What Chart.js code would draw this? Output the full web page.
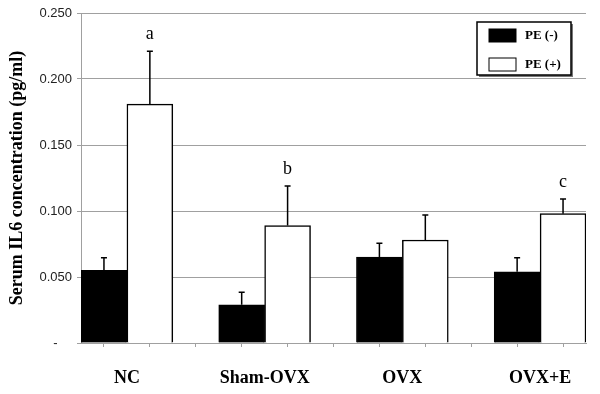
<!DOCTYPE html>
<html>
<head>
<meta charset="utf-8">
<script src="https://cdn.jsdelivr.net/npm/chart.js@4"></script>
<style>
  html, body { margin: 0; padding: 0; background: #fff; }
  #wrap { width: 600px; height: 394px; }
</style>
</head>
<body>
<div id="wrap"><canvas id="c" width="600" height="394"></canvas></div>
<script>
// ---- data ----
const categories = ['NC', 'Sham-OVX', 'OVX', 'OVX+E'];
const seriesNames = ['PE (-)', 'PE (+)'];
const peMinus = [0.055, 0.029, 0.065, 0.054];
const pePlus = [0.181, 0.089, 0.078, 0.098];
const peMinusErr = [0.0095, 0.0095, 0.0105, 0.0105];
const pePlusErr = [0.040, 0.030, 0.019, 0.011];
const pePlusLetters = ['a', 'b', '', 'c'];
const yTickLabels = ['-', '0.050', '0.100', '0.150', '0.200', '0.250'];
const yTitle = 'Serum IL6 concentration (pg/ml)';

const errors = [peMinusErr, pePlusErr];
const letters = [null, pePlusLetters];

const errorBarPlugin = {
  id: 'errorBars',
  afterDatasetsDraw(chart) {
    const ctx = chart.ctx;
    const yScale = chart.scales.y;
    chart.data.datasets.forEach((ds, di) => {
      const meta = chart.getDatasetMeta(di);
      const errs = errors[di];
      meta.data.forEach((el, i) => {
        const v = ds.data[i].y;
        const yTop = yScale.getPixelForValue(v + errs[i]);
        const x = el.x;
        ctx.save();
        ctx.strokeStyle = '#000';
        ctx.lineWidth = 1.5;
        ctx.beginPath();
        ctx.moveTo(x, el.y);
        ctx.lineTo(x, yTop);
        ctx.moveTo(x - 3, yTop);
        ctx.lineTo(x + 3, yTop);
        ctx.stroke();
        const lt = letters[di];
        if (lt && lt[i]) {
          ctx.fillStyle = '#000';
          ctx.font = '18px "Liberation Serif"';
          ctx.textAlign = 'center';
          ctx.textBaseline = 'middle';
          ctx.fillText(lt[i], x, yTop - 17);
        }
        ctx.restore();
      });
    });
  }
};

const legendPlugin = {
  id: 'boxLegend',
  afterDraw(chart) {
    const ctx = chart.ctx;
    const ca = chart.chartArea;
    const w = 94, h = 53;
    const x0 = ca.right - 15 - w;
    const y0 = ca.top + 9;
    ctx.save();
    ctx.fillStyle = '#777';
    ctx.fillRect(x0 + 2, y0 + 2, w, h);
    ctx.fillStyle = '#fff';
    ctx.fillRect(x0, y0, w, h);
    ctx.strokeStyle = '#000';
    ctx.lineWidth = 1.5;
    ctx.strokeRect(x0, y0, w, h);
    chart.data.datasets.forEach((ds, i) => {
      const sy = y0 + 7 + i * 29;
      ctx.fillStyle = ds.backgroundColor;
      ctx.fillRect(x0 + 12, sy, 27, 13);
      ctx.strokeStyle = '#000';
      ctx.lineWidth = 1;
      ctx.strokeRect(x0 + 12, sy, 27, 13);
      ctx.fillStyle = '#000';
      ctx.font = 'bold 13px "Liberation Serif"';
      ctx.textAlign = 'left';
      ctx.textBaseline = 'middle';
      ctx.fillText(ds.label, x0 + 48, sy + 7);
    });
    ctx.restore();
  }
};

new Chart(document.getElementById('c'), {
  type: 'bar',
  data: {
    datasets: [
      {
        label: seriesNames[0],
        data: categories.map((c, i) => ({ x: 3 * i + 0.5, y: peMinus[i] })),
        backgroundColor: '#000',
        borderColor: '#000',
        borderWidth: 1,
        grouped: false,
        barPercentage: 1,
        categoryPercentage: 1
      },
      {
        label: seriesNames[1],
        data: categories.map((c, i) => ({ x: 3 * i + 1.5, y: pePlus[i] })),
        backgroundColor: '#fff',
        borderColor: '#000',
        borderWidth: 1.5,
        grouped: false,
        barPercentage: 1,
        categoryPercentage: 1
      }
    ]
  },
  options: {
    responsive: false,
    animation: false,
    layout: { padding: { top: 13, right: 14, left: 0, bottom: 0 } },
    plugins: { legend: { display: false }, tooltip: { enabled: false } },
    scales: {
      x: {
        type: 'linear',
        min: 0,
        max: 3 * categories.length - 1,
        offset: false,
        ticks: {
          stepSize: 1,
          autoSkip: false,
          maxRotation: 0,
          padding: 21,
          color: '#000',
          font: { family: 'Liberation Serif', size: 18, weight: 'bold' },
          callback: (v) => (v % 3 === 1 ? categories[(v - 1) / 3] : '')
        },
        grid: { drawOnChartArea: false, color: '#a0a0a0', tickLength: 4 },
        border: { display: true, color: '#a0a0a0', width: 1 },
        afterFit: (s) => { s.height = 51; s.paddingLeft = 0; s.paddingRight = 0; }
      },
      y: {
        min: 0,
        max: 0.25,
        ticks: {
          stepSize: 0.05,
          padding: 5,
          color: '#222',
          font: { family: 'Liberation Sans', size: 13 },
          callback: (v, i) => (i === 0 ? yTickLabels[i] + '    ' : yTickLabels[i])
        },
        grid: { color: '#a0a0a0', lineWidth: 1, tickLength: 4 },
        border: { display: true, color: '#a0a0a0', width: 1 },
        title: {
          display: true,
          text: yTitle,
          color: '#000',
          font: { family: 'Liberation Serif', size: 18, weight: 'bold' },
          padding: { top: 7, bottom: 0 }
        },
        afterFit: (s) => { s.width = 81; }
      }
    }
  },
  plugins: [errorBarPlugin, legendPlugin]
});
</script>
</body>
</html>
